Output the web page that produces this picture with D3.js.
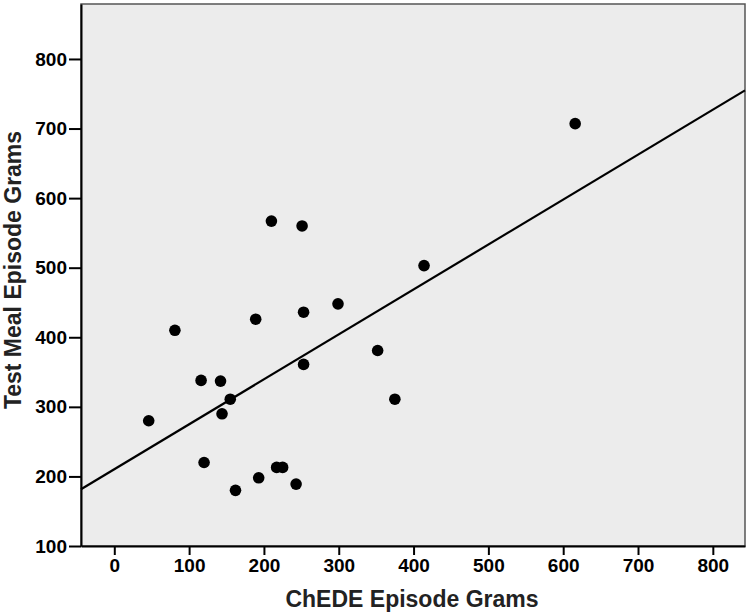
<!DOCTYPE html>
<html>
<head>
<meta charset="utf-8">
<script src="https://cdn.jsdelivr.net/npm/d3@7"></script>
<style>
  body { margin: 0; background: #fff; }
  .tick text { font-family: "Liberation Sans", Arial, sans-serif; font-weight: bold; font-size: 19px; fill: #000; }
  .axisText { font-family: "Liberation Sans", Arial, sans-serif; font-weight: bold; font-size: 23px; fill: #222; }
</style>
</head>
<body>
<div class="chart"></div>
<script>
// ChEDE vs test meal scatterplot

var svgWidth = 750;
var svgHeight = 616;

var margin = { top: 4, right: 5, bottom: 70, left: 81 };

var width = svgWidth - margin.left - margin.right;
var height = svgHeight - margin.top - margin.bottom;

// data
var chedeGrams = [46, 81, 116, 142, 155, 144, 120, 162, 193, 217, 225, 243,
    189, 253, 253, 299, 210, 251, 352, 375, 414, 616];
var testMealGrams = [280, 410, 338, 337, 311, 290, 220, 180, 198, 213, 213, 189,
    426, 436, 361, 448, 567, 560, 381, 311, 503, 707];
var xTicks = [0, 100, 200, 300, 400, 500, 600, 700, 800];
var yTicks = [100, 200, 300, 400, 500, 600, 700, 800];
var fitLine = { intercept: 210.3, slope: 0.646 };

var points = chedeGrams.map(function(x, i) {
    return { x: x, y: testMealGrams[i] };
});

var svg = d3.select(".chart")
    .append("svg")
    .attr("width", svgWidth)
    .attr("height", svgHeight);

var chart = svg.append("g")
    .attr("transform", "translate(" + margin.left + "," + margin.top + ")");

var xLinearScale = d3.scaleLinear()
    .domain([-44.5, 843])
    .range([0, width]);

var yLinearScale = d3.scaleLinear()
    .domain([100, 879])
    .range([height, 0]);

// plot background and frame
chart.append("rect")
    .attr("width", width)
    .attr("height", height)
    .attr("fill", "#ececec")
    .attr("stroke", "#555")
    .attr("stroke-width", 1.5);

// regression line
var x0 = xLinearScale.domain()[0], x1 = xLinearScale.domain()[1];
chart.append("line")
    .attr("x1", xLinearScale(x0))
    .attr("y1", yLinearScale(fitLine.intercept + fitLine.slope * x0))
    .attr("x2", xLinearScale(x1))
    .attr("y2", yLinearScale(fitLine.intercept + fitLine.slope * x1))
    .attr("stroke", "#000")
    .attr("stroke-width", 2.2);

chart.selectAll("circle")
    .data(points)
    .enter()
    .append("circle")
    .attr("cx", function(d) { return xLinearScale(d.x); })
    .attr("cy", function(d) { return yLinearScale(d.y); })
    .attr("r", 5.8)
    .attr("fill", "#000");

var bottomAxis = d3.axisBottom(xLinearScale)
    .tickValues(xTicks)
    .tickSize(9)
    .tickPadding(4)
    .tickSizeOuter(0);

var leftAxis = d3.axisLeft(yLinearScale)
    .tickValues(yTicks)
    .tickSize(12)
    .tickPadding(2)
    .tickSizeOuter(0);

var xg = chart.append("g")
    .attr("transform", `translate(0, ${height})`)
    .call(bottomAxis);

var yg = chart.append("g")
    .call(leftAxis);

[xg, yg].forEach(function(g) {
    g.select(".domain").attr("stroke", "#000").attr("stroke-width", 2);
    g.selectAll(".tick line").attr("stroke", "#000").attr("stroke-width", 2);
});

chart.append("text")
    .attr("transform", "rotate(-90)")
    .attr("y", 21 - margin.left)
    .attr("x", -(270 - margin.top))
    .attr("text-anchor", "middle")
    .attr("class", "axisText")
    .text("Test Meal Episode Grams");

chart.append("text")
    .attr("x", 412 - margin.left)
    .attr("y", 607 - margin.top)
    .attr("text-anchor", "middle")
    .attr("class", "axisText")
    .text("ChEDE Episode Grams");
</script>
</body>
</html>
